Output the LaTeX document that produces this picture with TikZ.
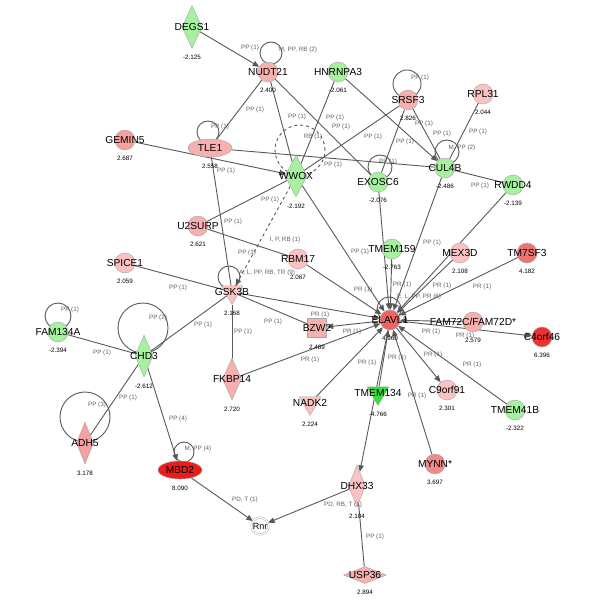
\documentclass[tikz,border=0pt]{standalone}
\usepackage{fontspec}
\setmainfont{Liberation Sans}
\usetikzlibrary{shapes.geometric,arrows.meta,backgrounds}
\definecolor{pkA}{HTML}{FAC2C2}
\definecolor{pkB}{HTML}{F7B0B0}
\definecolor{rdA}{HTML}{F4A0A0}
\definecolor{rdB}{HTML}{F08A8A}
\definecolor{rdC}{HTML}{EE7474}
\definecolor{rdD}{HTML}{EE6464}
\definecolor{rdE}{HTML}{EC3434}
\definecolor{rdF}{HTML}{EA1C1C}
\definecolor{gnA}{HTML}{A6F0A0}
\definecolor{gnB}{HTML}{36E036}
\begin{document}
\begin{tikzpicture}[x=1pt,y=-1pt,>={Triangle[length=6.5pt,width=5.5pt]},line join=round,
    gene/.style={draw=black!35,line width=0.4pt,inner sep=0pt},
    glab/.style={font=\fontsize{10.2}{12}\selectfont,inner sep=0pt},
    vlab/.style={font=\fontsize{6.3}{7}\selectfont,inner sep=0pt},
    elab/.style={font=\fontsize{6.3}{7}\selectfont,text=black!62,inner sep=0.5pt},
    cg/.style 2 args={gene,circle,minimum size=20pt,
        label={[glab]center:#1},label={[vlab,label distance=6pt]below:#2}},
    dg/.style 2 args={gene,diamond,
        label={[glab]center:#1},label={[vlab,label distance=6.5pt]below:#2}},
    tg/.style 2 args={gene,regular polygon,regular polygon sides=3,
        shape border rotate=180,minimum size=25pt,
        label={[glab]center:#1},label={[vlab,label distance=6pt]below:#2}},
    eg/.style 2 args={gene,ellipse,minimum width=44pt,minimum height=18pt,
        label={[glab]center:#1},label={[vlab,label distance=7pt]below:#2}},
    edge/.style={draw=black!65,line width=0.9pt}]
\useasboundingbox (0,0) rectangle (600,609);
% genes
\node[dg={DEGS1}{-2.125},fill=gnA,minimum width=20pt,minimum height=43pt] (degs) at (192,27) {};
\node[cg={NUDT21}{2.400},fill=pkB] (nudt) at (268,72) {};
\node[cg={HNRNPA3}{-2.061},fill=gnA] (hnrn) at (338,72) {};
\node[cg={SRSF3}{2.826},fill=pkB] (srsf) at (408,100) {};
\node[cg={RPL31}{2.044},fill=pkA] (rpl) at (483,94) {};
\node[cg={GEMIN5}{2.687},fill=rdA] (gemin) at (125,140) {};
\node[eg={TLE1}{2.558},fill=pkB] (tle) at (210,148) {};
\node[dg={WWOX}{-2.192},fill=gnA,minimum width=22pt,minimum height=42pt] (wwox) at (296,176) {};
\node[cg={EXOSC6}{-2.076},fill=gnA] (exosc) at (378,182) {};
\node[cg={CUL4B}{-2.486},fill=gnA] (cul) at (445,168) {};
\node[cg={RWDD4}{-2.139},fill=gnA] (rwdd) at (513,185) {};
\node[cg={U2SURP}{2.621},fill=pkB] (usurp) at (198,226) {};
\node[cg={RBM17}{2.067},fill=pkA] (rbm) at (298,259) {};
\node[cg={SPICE1}{2.059},fill=pkA] (spice) at (125,263) {};
\node[cg={TMEM159}{-2.763},fill=gnA] (tmemA) at (392,249) {};
\node[cg={MEX3D}{2.108},fill=pkA] (mex) at (460,253) {};
\node[cg={TM7SF3}{4.182},fill=rdC] (tmsf) at (527,253) {};
\node[tg={GSK3B}{2.168},fill=pkA] (gsk) at (232,292) {};
\node[cg={ELAVL1}{4.960},fill=rdD] (elavl) at (390,320) {};
\node[gene,rectangle,minimum size=19pt,fill=pkB,label={[glab]center:BZW2},
      label={[vlab,label distance=7pt]below:2.489}] (bzw) at (317,328) {};
\node[cg={FAM72C/FAM72D*}{2.579},fill=pkB] (fam) at (473,322) {};
\node[cg={C4orf46}{6.396},fill=rdE] (corf) at (542,337) {};
\node[cg={FAM134A}{-2.394},fill=gnA] (famA) at (58,332) {};
\node[dg={CHD3}{-2.612},fill=gnA,minimum width=18pt,minimum height=42pt] (chd) at (144,356) {};
\node[dg={FKBP14}{2.720},fill=pkB,minimum width=19pt,minimum height=42pt] (fkbp) at (232,379) {};
\node[tg={NADK2}{2.224},fill=pkA] (nadk) at (310,403) {};
\node[tg={TMEM134}{-4.766},fill=gnB] (tmemB) at (378,393) {};
\node[cg={C9orf91}{2.301},fill=pkA] (cnine) at (447,390) {};
\node[cg={TMEM41B}{-2.322},fill=gnA] (tmemC) at (515,410) {};
\node[cg={MYNN*}{3.697},fill=rdB] (mynn) at (435,464) {};
\node[dg={ADH5}{3.178},fill=rdA,minimum width=17pt,minimum height=42pt] (adh) at (85,443) {};
\node[eg={MBD2}{8.090},fill=rdF] (mbd) at (180,470) {};
\node[dg={DHX33}{2.104},fill=pkA,minimum width=17pt,minimum height=42pt] (dhx) at (357,486) {};
\node[gene,circle,double,double distance=1.2pt,minimum size=17pt,fill=white,
      label={[glab,font=\fontsize{9}{10}\selectfont]center:Rnr}] (rnr) at (260,526) {};
\node[dg={USP36}{2.894},fill=pkB,minimum width=43pt,minimum height=17pt] (usp) at (365,575) {};
\begin{scope}[on background layer]
\fill[white] (0,0) rectangle (600,609);
% self loops
\foreach \n/\dx/\dy/\r in {nudt/3/-19/11,tle/-2/-16/11,srsf/-1/-16/14,exosc/2/-15/12,
    cul/2/-16/12,gsk/-3/-15/11,elavl/-1/-11/12,famA/0/-16/13,chd/-1/-28/25,
    adh/0/-26/25,mbd/4/-18/10}
  {\draw[edge] ([shift={(\dx,\dy)}]\n.center) circle (\r pt);}
\draw[edge,dashed] ([shift={(4,-26)}]wwox.center) circle (25pt);
% interactions
\draw[edge,->] (degs) -- (nudt);
\draw[edge] (nudt) -- (tle);
\draw[edge] (nudt) -- (wwox);
\draw[edge] (nudt) -- (exosc);
\draw[edge] (hnrn) -- (wwox);
\draw[edge,->] (hnrn) -- (cul);
\draw[edge] (srsf) -- (wwox);
\draw[edge] (srsf) -- (exosc);
\draw[edge] (srsf) -- (cul);
\draw[edge] (rpl) -- (cul);
\draw[edge] (cul) -- (rwdd);
\draw[edge,->] (gemin) -- (wwox);
\draw[edge] (tle) -- (cul);
\draw[edge] (tle) -- (gsk);
\draw[edge] (usurp) -- (wwox);
\draw[edge] (usurp) -- (rbm);
\draw[edge,dashed,->] (wwox) -- (gsk);
\foreach \n in {wwox,exosc,cul,rwdd,rbm,tmemA,mex,tmsf,gsk,fam,fkbp,nadk,tmemB,tmemC,mynn}
  {\draw[edge,->] (\n) -- (elavl);}
\foreach \n in {corf,bzw,dhx,cnine}
  {\draw[edge,->] (elavl) -- (\n);}
\draw[edge] (spice) -- (gsk);
\draw[edge] (gsk) -- (bzw);
\draw[edge] (gsk) -- (fkbp);
\draw[edge] (gsk) -- (chd);
\draw[edge] (famA) -- (chd);
\draw[edge] (chd) -- (adh);
\draw[edge,->] (chd) -- (mbd);
\draw[edge,->] (mbd) -- (rnr);
\draw[edge,->] (dhx) -- (rnr);
\draw[edge] (dhx) -- (usp);
\end{scope}
% edge labels
\foreach \x/\y/\t [count=\i] in {250/48/PP (1),298/50/{M, PP, RB (2)},255/110/PP (1),
    297/117/PP (1),335/118/PP (1),341/127/PP (1),313/137/RB (1),373/137/PP (1),
    333/165/PP (1),388/162/PP (1),220/127/PP (1),226/171/PP (1),420/78/PP (1),
    424/124/PP (1),405/142/PP (1),442/134/PP (1),478/132/PP (1),462/148/{M, PP (2)},
    480/186/PP (1),270/200/PP (1),233/222/PP (1),285/240/{I, P, RB (1)},247/253/PP (1),
    267/273/{A, L, PP, RB, TR (9)},360/252/PP (1),432/243/PP (1),363/290/PR (1),
    402/285/PR (1),419/297/{E, L, PP, PR (6)},442/286/PR (1),482/287/PR (1),
    320/315/PR (1),273/322/PP (1),243/332/PP (1),352/332/PR (1),431/332/PR (1),
    465/336/PR (1),310/360/PR (1),367/363/PR (1),397/358/PR (1),433/355/PR (1),
    472/365/PR (1),417/396/PR (1),203/325/PP (1),178/288/PP (1),70/310/PP (1),
    158/318/PP (2),102/353/PP (1),128/398/PP (1),97/405/PP (3),178/419/PP (4),
    198/449/{M, PP (4)},245/500/{PD, T (1)},343/505/{PD, RB, T (1)},375/537/PP (1)}
  {\node[elab] (el\i) at (\x,\y) {\t};}
\end{tikzpicture}
\end{document}
